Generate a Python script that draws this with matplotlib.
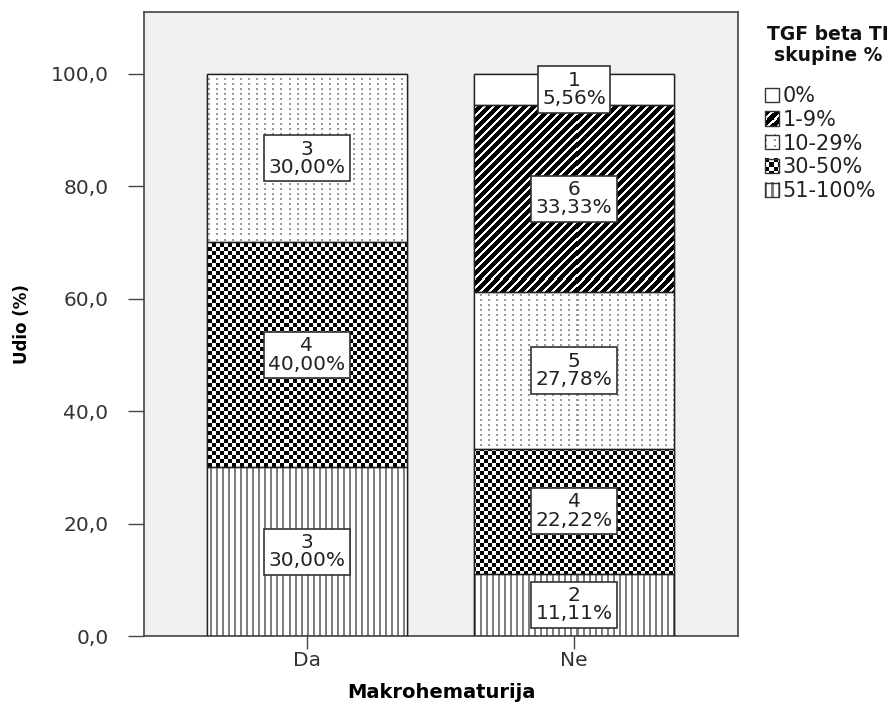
import numpy as np
import matplotlib
matplotlib.use("Agg")
import matplotlib.pyplot as plt
from matplotlib.legend_handler import HandlerBase
from matplotlib.image import BboxImage
from matplotlib.transforms import Bbox, TransformedBbox
from matplotlib.patches import Rectangle

# ---------------- data ----------------
categories = ["Da", "Ne"]
groups = ["0%", "1-9%", "10-29%", "30-50%", "51-100%"]
counts_da = [0, 0, 3, 4, 3]
counts_ne = [1, 6, 5, 4, 2]
y_ticks = [0, 20, 40, 60, 80, 100]
x_title = "Makrohematurija"
y_title = "Udio (%)"
legend_title = "TGF beta TI\nskupine %"

counts = {"Da": counts_da, "Ne": counts_ne}

# ---------------- textures ----------------
def texture(key, X, Y):
    """X, Y: integer pixel grids (Y from top). Returns RGB array."""
    out = np.ones(X.shape + (3,))
    if key == "0%":
        return out
    if key == "1-9%":
        m = ((X + Y) % 9) < 5.5
        out[m] = 0.0
        return out
    if key == "10-29%":
        m = ((X % 8) < 2) & ((Y % 5) < 2)
        out[m] = 0.6
        return out
    if key == "30-50%":
        m = ((np.floor(X / 4) + np.floor(Y / 4)) % 2) == 0
        out[m] = 0.0
        return out
    if key == "51-100%":
        m = (X % 6) < 2
        out[m] = 0.5
        return out
    return out

W_IN, H_IN, DPI = 8.95, 7.14, 100
fig = plt.figure(figsize=(W_IN, H_IN), dpi=DPI)
FW, FH = W_IN * DPI, H_IN * DPI
ax = fig.add_axes([144 / FW, (FH - 636) / FH, (738 - 144) / FW, (636 - 12) / FH])
ax.set_facecolor("#f0f0f0")
ax.set_xlim(-0.61, 1.614)
ax.set_ylim(0, 111)

plt.rcParams["font.family"] = ["DejaVu Sans"]

edge = "#222222"
xpos = np.arange(len(categories))
width = 0.75
stack_order = ["51-100%", "30-50%", "10-29%", "1-9%", "0%"]

for i, cat in enumerate(categories):
    c = counts[cat]
    total = sum(c)
    bottom = 0.0
    for g in stack_order:
        n = c[groups.index(g)]
        if n == 0:
            continue
        pct = 100.0 * n / total
        bar = ax.bar(xpos[i], pct, bottom=bottom, width=width, color="white",
                     edgecolor=edge, linewidth=1.0, zorder=2)[0]
        (px0, py0) = ax.transData.transform((bar.get_x(), bottom))
        (px1, py1) = ax.transData.transform((bar.get_x() + bar.get_width(), bottom + pct))
        ix0, ix1 = int(np.floor(px0)), int(np.ceil(px1))
        iy0, iy1 = int(np.floor(py0)), int(np.ceil(py1))
        cols = np.arange(ix0, ix1)
        rows_disp = np.arange(iy1 - 1, iy0 - 1, -1)
        X, Yd = np.meshgrid(cols, rows_disp)
        Yt = (FH - Yd).astype(int)
        arr = texture(g, X, Yt)
        inv = ax.transData.inverted()
        dx0, dy0 = inv.transform((ix0, iy0))
        dx1, dy1 = inv.transform((ix1, iy1))
        im = ax.imshow(arr, extent=(dx0, dx1, dy0, dy1), origin="upper",
                       interpolation="nearest", aspect="auto", zorder=2.5)
        im.set_clip_path(bar)
        ax.bar(xpos[i], pct, bottom=bottom, width=width, fill=False,
               edgecolor=edge, linewidth=1.0, zorder=3)
        label = f"{n}\n{pct:.2f}%".replace(".", ",")
        ax.text(xpos[i], bottom + pct / 2, label, ha="center", va="center",
                fontsize=14.5, color="#222222", linespacing=0.95, zorder=5,
                bbox=dict(boxstyle="square,pad=0.22", fc="white", ec="#333333", lw=1.2))
        bottom += pct

ax.set_xlim(-0.61, 1.614)
ax.set_ylim(0, 111)
ax.set_xticks(xpos)
ax.set_xticklabels(categories)
ax.set_yticks(y_ticks)
ax.set_yticklabels([f"{v:.1f}".replace(".", ",") for v in y_ticks])
ax.tick_params(axis="y", length=11.5, width=1, color="#444444", pad=14,
               labelsize=14.5, labelcolor="#333333")
ax.tick_params(axis="x", length=9, width=1, color="#444444", pad=2,
               labelsize=14.5, labelcolor="#333333")
for s in ax.spines.values():
    s.set_color("#444444")
    s.set_linewidth(1.2)

ax.set_xlabel(x_title, fontsize=14, fontweight="bold", labelpad=9)
ax.set_ylabel(y_title, fontsize=12, fontweight="bold", labelpad=14)

# ---------------- legend ----------------
class TexHandler(HandlerBase):
    def __init__(self, key):
        super().__init__()
        self.key = key

    def create_artists(self, legend, orig_handle, xdescent, ydescent, width,
                       height, fontsize, trans):
        s = height
        x0, y0 = -xdescent, -ydescent
        npx = 14
        X, Y = np.meshgrid(np.arange(npx), np.arange(npx))
        arr = texture(self.key, X, Y)
        bb = TransformedBbox(Bbox.from_bounds(x0, y0, s, s), trans)
        img = BboxImage(bb, interpolation="nearest", origin="upper")
        img.set_data(arr)
        rect = Rectangle((x0, y0), s, s, fill=False, ec="#333333", lw=1.0,
                         transform=trans)
        return [img, rect]

fig.text(828 / FW, 1 - 45 / FH, legend_title, ha="center", va="center",
         fontsize=13.5, fontweight="bold", multialignment="center",
         linespacing=1.1, color="#111111")

handles = [Rectangle((0, 0), 1, 1) for _ in groups]
handler_map = {h: TexHandler(g) for h, g in zip(handles, groups)}
leg = fig.legend(handles, groups, handler_map=handler_map,
                 loc="upper left", bbox_to_anchor=(765 / FW, 1 - 86 / FH),
                 frameon=False, fontsize=15,
                 handlelength=0.68, handleheight=0.68, handletextpad=0.15,
                 labelspacing=0.18, borderaxespad=0, borderpad=0)
for t in leg.get_texts():
    t.set_color("#222222")

fig.savefig("out.png", dpi=DPI)
